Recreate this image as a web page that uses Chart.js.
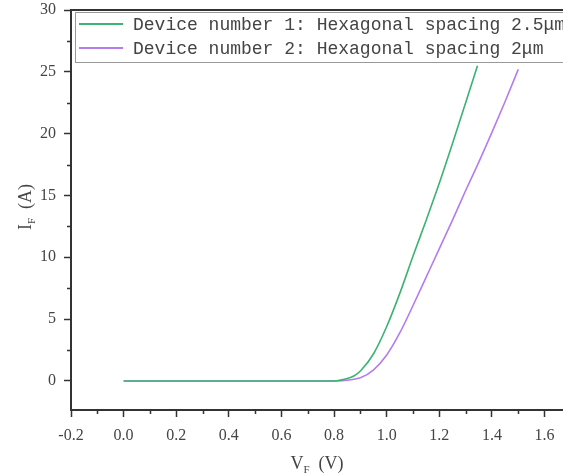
<!DOCTYPE html>
<html lang="en">
  <head>
    <meta charset="utf-8" />
    <script src="https://cdn.jsdelivr.net/npm/chart.js@4.4.0/dist/chart.umd.min.js"></script>
    <title>IV curves</title>
    <style>
      html, body { margin: 0; padding: 0; background: #fff; }
      canvas { display: block; }
    </style>
  </head>
  <body>
    <canvas id="ivChart" width="563" height="475"></canvas>
    <script>
      // device 1 (2.5 um spacing)
      const vf1 = [0.0, 0.8, 0.85, 0.875, 0.9, 0.95, 1.0, 1.05, 1.1, 1.15, 1.2, 1.25, 1.3, 1.345];
      const if1 = [0, 0, 0.2, 0.4, 0.8, 2.2, 4.4, 7.1, 10.1, 13.0, 16.0, 19.2, 22.5, 25.5];
      // device 2 (2 um spacing)
      const vf2 = [0.0, 0.8, 0.9, 0.95, 1.0, 1.05, 1.1, 1.15, 1.2, 1.25, 1.3, 1.35, 1.4, 1.45, 1.5];
      const if2 = [0, 0, 0.25, 0.9, 2.1, 3.9, 6.1, 8.4, 10.7, 13.0, 15.4, 17.7, 20.1, 22.6, 25.2];
      const seriesLabels = [
        "Device number 1: Hexagonal spacing 2.5μm",
        "Device number 2: Hexagonal spacing 2μm",
      ];
      const xTicks = [-0.2, 0.0, 0.2, 0.4, 0.6, 0.8, 1.0, 1.2, 1.4, 1.6];
      const yTicks = [0, 5, 10, 15, 20, 25, 30];

      const axisColor = "#333";
      const tickFont = { family: "Liberation Serif", size: 16 };

      const toPoints = (xs, ys) => xs.map((x, i) => ({ x: x, y: ys[i] }));

      const extras = {
        id: "extras",
        afterDraw(chart) {
          const c = chart.ctx;
          const a = chart.chartArea;
          const xs = chart.scales.x;
          const ys = chart.scales.y;
          c.save();
          c.strokeStyle = axisColor;
          c.lineWidth = 2;
          // top border
          c.beginPath();
          c.moveTo(a.left, a.top);
          c.lineTo(a.right, a.top);
          c.stroke();
          // minor ticks
          c.lineWidth = 1.5;
          c.beginPath();
          for (let v = -0.1; v < 1.65; v += 0.2) {
            const px = Math.round(xs.getPixelForValue(v)) + 0.5;
            c.moveTo(px, a.bottom);
            c.lineTo(px, a.bottom + 4);
          }
          for (let v = 2.5; v < 30; v += 5) {
            const py = Math.round(ys.getPixelForValue(v)) + 0.5;
            c.moveTo(a.left, py);
            c.lineTo(a.left - 4, py);
          }
          c.stroke();

          // legend
          c.lineWidth = 1;
          c.strokeStyle = "#999";
          c.strokeRect(75.5, 12.5, 500, 50);
          const rows = [24, 48];
          chart.data.datasets.forEach((ds, i) => {
            c.strokeStyle = ds.borderColor;
            c.lineWidth = 2;
            c.beginPath();
            c.moveTo(79, rows[i]);
            c.lineTo(123, rows[i]);
            c.stroke();
            c.fillStyle = "#444";
            c.font = "18px 'Liberation Mono'";
            c.textBaseline = "middle";
            c.textAlign = "left";
            c.fillText(ds.label, 133, rows[i] + 1);
          });

          // axis titles with subscript
          const drawTitle = (main, sub, rest) => {
            c.font = "18px 'Liberation Serif'";
            const w1 = c.measureText(main).width;
            c.font = "11px 'Liberation Serif'";
            const w2 = c.measureText(sub).width;
            c.font = "18px 'Liberation Serif'";
            const w3 = c.measureText(rest).width;
            let x = -(w1 + w2 + w3) / 2;
            c.textAlign = "left";
            c.textBaseline = "alphabetic";
            c.fillStyle = "#444";
            c.fillText(main, x, 6);
            x += w1;
            c.font = "11px 'Liberation Serif'";
            c.fillText(sub, x, 10);
            x += w2;
            c.font = "18px 'Liberation Serif'";
            c.fillText(rest, x, 6);
          };
          c.save();
          c.translate((a.left + a.right) / 2, 463);
          drawTitle("V", "F", "  (V)");
          c.restore();
          c.save();
          c.translate(25, 207);
          c.rotate(-Math.PI / 2);
          drawTitle("I", "F", "  (A)");
          c.restore();
          c.restore();
        },
      };

      new Chart(document.getElementById("ivChart"), {
        type: "line",
        data: {
          datasets: [
            {
              label: seriesLabels[0],
              data: toPoints(vf1, if1),
              borderColor: "#3cb274",
              borderWidth: 1.6,
              pointRadius: 0,
              cubicInterpolationMode: "monotone",
              fill: false,
            },
            {
              label: seriesLabels[1],
              data: toPoints(vf2, if2),
              borderColor: "#b57cec",
              borderWidth: 1.6,
              pointRadius: 0,
              cubicInterpolationMode: "monotone",
              fill: false,
            },
          ],
        },
        options: {
          responsive: false,
          animation: false,
          layout: { autoPadding: false, padding: { top: 10, left: 0, right: 0, bottom: 0 } },
          plugins: {
            legend: { display: false },
            tooltip: { enabled: false },
          },
          scales: {
            x: {
              type: "linear",
              min: -0.2,
              max: 1.67,
              afterFit: (s) => {
                s.height = 65;
                s.paddingLeft = 0;
                s.paddingRight = 0;
              },
              afterBuildTicks: (s) => { s.ticks = xTicks.map((v) => ({ value: v })); },
              ticks: {
                includeBounds: false,
                padding: 9,
                color: "#444",
                font: tickFont,
                maxRotation: 0,
                callback: (v) => Number(v).toFixed(1),
              },
              grid: {
                drawOnChartArea: false,
                tickLength: 7,
                tickWidth: 1.5,
                tickColor: axisColor,
              },
              border: { color: axisColor, width: 2 },
            },
            y: {
              type: "linear",
              min: -2.35,
              max: 30,
              afterFit: (s) => {
                s.width = 71;
                s.paddingTop = 0;
                s.paddingBottom = 0;
              },
              afterBuildTicks: (s) => { s.ticks = yTicks.map((v) => ({ value: v })); },
              ticks: {
                includeBounds: false,
                padding: 8,
                color: "#444",
                font: tickFont,
                callback: (v) => String(v),
              },
              grid: {
                drawOnChartArea: false,
                tickLength: 7,
                tickWidth: 1.5,
                tickColor: axisColor,
              },
              border: { color: axisColor, width: 2 },
            },
          },
        },
        plugins: [extras],
      });
    </script>
  </body>
</html>
